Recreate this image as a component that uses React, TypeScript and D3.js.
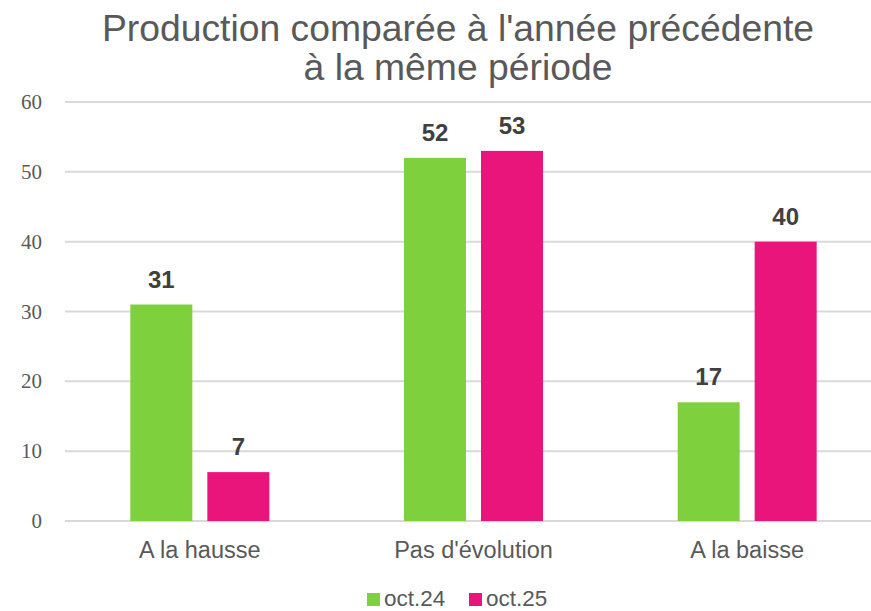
import React from "react";
import * as d3 from "d3";

const categories = ["A la hausse", "Pas d'évolution", "A la baisse"];
const seriesNames = ["oct.24", "oct.25"];
const oct24 = [31, 52, 17];
const oct25 = [7, 53, 40];
const yTicks = [0, 10, 20, 30, 40, 50, 60];
const colors = ["#7ED13C", "#EA157A"];

const SANS = "'Liberation Sans', Arial, sans-serif";
const SERIF = "'Liberation Serif', 'DejaVu Serif', serif";

export default function App() {
  const W = 871, H = 611;
  const x = d3.scaleBand<string>().domain(categories).range([63, 884]).paddingInner(0).paddingOuter(0);
  const y = d3.scaleLinear().domain([0, 60]).range([521, 102]);
  const barW = 62, gap = 15;
  const series = [oct24, oct25];
  return (
    <svg width={W} height={H} style={{ position: "absolute", left: 0, top: 0, background: "#fff" }}>
      <text x={458} y={41} textAnchor="middle" fontFamily={SANS} fontSize={37.3} fill="#595959">Production comparée à l'année précédente</text>
      <text x={458} y={80} textAnchor="middle" fontFamily={SANS} fontSize={37.3} fill="#595959">à la même période</text>
      {yTicks.map((t) => (
        <g key={t}>
          <line x1={65} x2={W} y1={y(t)} y2={y(t)} stroke="#D9D9D9" strokeWidth={2} />
          <text x={42} y={y(t) + 7} textAnchor="end" fontFamily={SERIF} fontSize={21} fill="#595959">{t}</text>
        </g>
      ))}
      {categories.map((c, i) => {
        const cx = (x(c) as number) + x.bandwidth() / 2;
        return (
          <g key={c}>
            {series.map((s, j) => {
              const bx = cx - gap / 2 - barW + j * (barW + gap);
              return (
                <g key={j}>
                  <rect x={bx} y={y(s[i])} width={barW} height={y(0) - y(s[i])} fill={colors[j]} />
                  <text x={bx + barW / 2} y={y(s[i]) - 17} textAnchor="middle" fontFamily={SANS} fontWeight="bold" fontSize={24} fill="#404040">{s[i]}</text>
                </g>
              );
            })}
            <text x={cx} y={558} textAnchor="middle" fontFamily={SANS} fontSize={23.5} fill="#595959">{c}</text>
          </g>
        );
      })}
      {seriesNames.map((n, j) => {
        const lx = j === 0 ? 367 : 469;
        return (
          <g key={n}>
            <rect x={lx} y={593} width={13} height={13} fill={colors[j]} />
            <text x={lx + 17} y={606} fontFamily={SANS} fontSize={22.5} fill="#595959">{n}</text>
          </g>
        );
      })}
    </svg>
  );
}
